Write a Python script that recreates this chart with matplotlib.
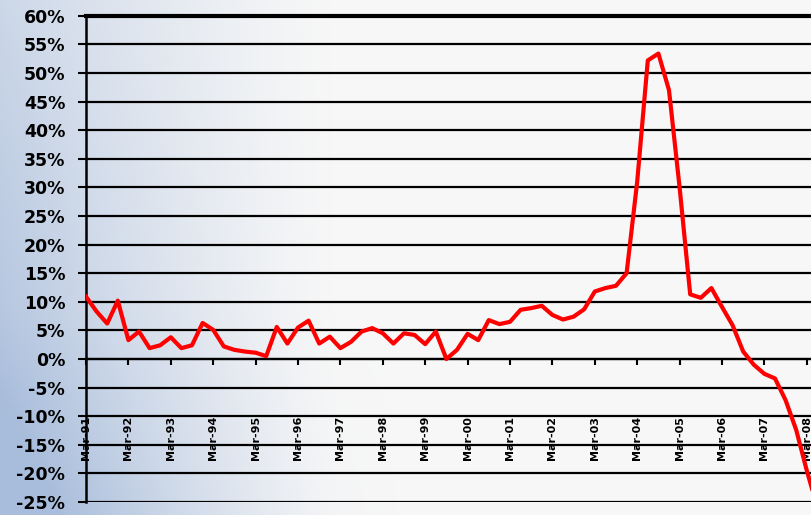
import matplotlib.pyplot as plt
import numpy as np

# quarterly growth, Mar-91 onwards (%)
values = [10.9, 8.3, 6.2, 10.2, 3.3, 4.8, 1.9, 2.4, 3.8, 1.9,
          2.4, 6.3, 5.1, 2.2, 1.6, 1.3, 1.1, 0.5, 5.6, 2.7,
          5.5, 6.7, 2.7, 3.9, 1.9, 3.0, 4.8, 5.4, 4.5, 2.7,
          4.5, 4.2, 2.6, 4.8, 0.0, 1.6, 4.4, 3.3, 6.8, 6.1,
          6.5, 8.6, 8.9, 9.3, 7.7, 6.9, 7.4, 8.7, 11.8, 12.4,
          12.8, 15.0, 31.0, 52.2, 53.4, 47.0, 30.0, 11.3, 10.7, 12.4,
          9.1, 5.9, 1.3, -1.0, -2.6, -3.4, -7.2, -12.4, -19.5, -26.0]
tick_labels = ['Mar-%02d' % (y % 100) for y in range(1991, 2009)]
y_ticks = list(range(-25, 61, 5))

W, H = 812, 515
fig = plt.figure(figsize=(W / 100, H / 100), dpi=100)

# background gradient
bg = fig.add_axes([0, 0, 1, 1], zorder=-1)
xx, yy = np.meshgrid(np.linspace(0, 1, W), np.linspace(0, 1, H))
b = np.clip(1 - xx / 0.42, 0, 1) ** 1.3 * (0.55 + 0.45 * yy)
b += np.clip(1 - xx / 0.5, 0, 1) * np.clip(yy - 0.6, 0, 1) * 0.6
b = np.clip(b, 0, 1)
light = np.array([0.97, 0.97, 0.97])
blue = np.array([0.66, 0.74, 0.86])
img = light * (1 - b[..., None]) + blue * b[..., None]
bg.imshow(img, aspect='auto', extent=[0, 1, 0, 1], origin='upper')
bg.axis('off')

px = 10.6  # pixels per quarter
n = 72
ax = fig.add_axes([86 / W, 13 / H, n * px / W, (502 - 15.8) / H])
ax.patch.set_alpha(0)
ax.spines['bottom'].set_position(('data', 0))

x = np.arange(len(values))
ax.plot(x, values, color='#ff0000', lw=3, zorder=5, solid_joinstyle='round')

ax.set_xlim(0, n)
ax.set_ylim(-25, 60)
ax.set_yticks(y_ticks)
ax.set_yticklabels(['%d%%' % v for v in y_ticks], fontsize=12.5, fontweight='bold')
for v in y_ticks:
    ax.axhline(v, color='black', lw=1.6, zorder=2)

ax.set_xticks(np.arange(0, 69, 4))
ax.set_xticklabels(tick_labels, rotation=90, fontsize=8, fontweight='bold')

ax.spines['bottom'].set_linewidth(1.6)
ax.spines['left'].set_linewidth(1.8)
ax.spines['top'].set_linewidth(3)
ax.spines['right'].set_visible(False)
ax.tick_params(axis='x', length=4, width=1.5, pad=37)
ax.tick_params(axis='y', length=6, width=1.5, pad=9)

fig.savefig('out.png', dpi=100)
